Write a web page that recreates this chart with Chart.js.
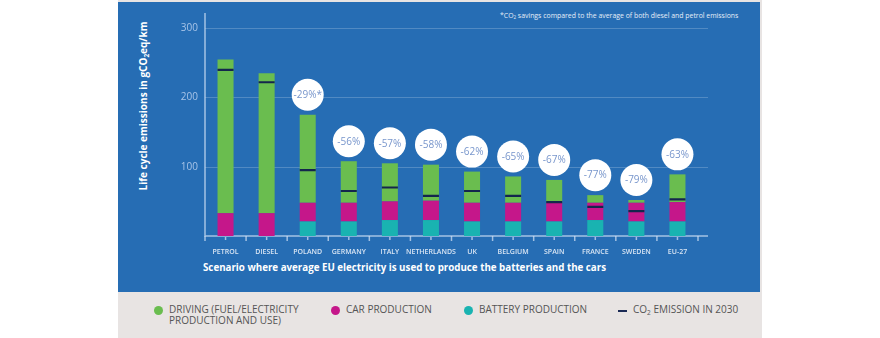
<!DOCTYPE html>
<html>
<head>
<meta charset="utf-8">
<script src="https://cdn.jsdelivr.net/npm/chart.js@4"></script>
<style>
  body { margin: 0; background: #fff; width: 880px; height: 338px; overflow: hidden; position: relative; font-family: "Open Sans", sans-serif; }
  #card { position: absolute; left: 118px; top: 0; width: 644px; height: 338px; background: #e8e4e3; }
  #panel { position: absolute; left: 118px; top: 2px; width: 642px; height: 290px; background: #266db4; }
  #chart { position: absolute; left: 0; top: 0; }
  .txt { position: absolute; white-space: nowrap; color: #fff; }
  #yTitle { left: 143px; top: 106px; font-size: 10px; font-weight: 700; transform: translate(-50%, -50%) rotate(-90deg); }
  #xTitle { left: 203px; top: 261px; font-size: 9.75px; font-weight: 700; }
  #note { left: 500px; top: 11px; font-size: 6.9px; color: #e6eef8; }
  sub { font-size: 65%; vertical-align: -0.3em; line-height: 0; }
  .leg { position: absolute; font-size: 10px; color: #555; line-height: 11px; white-space: nowrap; }
  .dot { position: absolute; width: 9px; height: 9px; border-radius: 50%; }
  .dash { position: absolute; width: 9px; height: 2px; background: #1b2a55; }
</style>
</head>
<body>
<div id="card"></div>
<div id="panel"></div>
<div class="txt" id="yTitle">Life cycle emissions in gCO<sub>2</sub>eq/km</div>
<div class="txt" id="xTitle">Scenario where average EU electricity is used to produce the batteries and the cars</div>
<div class="txt" id="note">*CO<sub>2</sub> savings compared to the average of both diesel and petrol emissions</div>

<div class="dot" style="left:154px; top:306px; background:#6abd4f"></div>
<div class="leg" style="left:169px; top:304px">DRIVING (FUEL/ELECTRICITY<br>PRODUCTION AND USE)</div>
<div class="dot" style="left:331px; top:306px; background:#c5178a"></div>
<div class="leg" style="left:346px; top:304px">CAR PRODUCTION</div>
<div class="dot" style="left:464px; top:306px; background:#19b3b1"></div>
<div class="leg" style="left:479px; top:304px">BATTERY PRODUCTION</div>
<div class="dash" style="left:618px; top:310px"></div>
<div class="leg" style="left:633px; top:304px">CO<sub>2</sub> EMISSION IN 2030</div>

<canvas id="chart" width="880" height="338"></canvas>

<script>
// gCO2eq/km per source, stacked bottom to top: battery, car, driving
const countries = ['PETROL', 'DIESEL', 'POLAND', 'GERMANY', 'ITALY', 'NETHERLANDS', 'UK', 'BELGIUM', 'SPAIN', 'FRANCE', 'SWEDEN', 'EU-27'];
const batteryProduction = [0, 0, 21, 21, 23, 23, 21, 21, 21, 23, 21, 21];
const carProduction = [33, 33, 27, 27, 27, 28, 27, 27, 27, 25, 27, 28];
const driving = [222, 202, 127, 60, 55, 52, 45, 38, 33, 11, 4, 40];
const emission2030 = [240, 222, 95, 65, 70, 58, 65, 58, 49, 42, 36, 53];
const savings = ['', '', '-29%*', '-56%', '-57%', '-58%', '-62%', '-65%', '-67%', '-77%', '-79%', '-63%'];
const yTicks = [100, 200, 300];

const FONT = '"Open Sans", sans-serif';
const AXIS_COL = 'rgba(205,222,243,0.75)';

// axis line, gridlines, the two sets of tick marks and the category names
const axisDecor = {
    id: 'axisDecor',
    beforeDatasetsDraw(chart) {
        const { ctx, chartArea: a, scales: { x, y } } = chart;
        const ext = a.right + 10;
        ctx.save();
        ctx.lineWidth = 1;
        ctx.strokeStyle = 'rgba(255,255,255,0.2)';
        yTicks.forEach(v => {
            const py = Math.round(y.getPixelForValue(v)) + 0.5;
            ctx.beginPath(); ctx.moveTo(a.left, py); ctx.lineTo(ext, py); ctx.stroke();
        });
        ctx.strokeStyle = AXIS_COL;
        ctx.lineWidth = 1.5;
        ctx.beginPath();
        ctx.moveTo(a.left, a.top); ctx.lineTo(a.left, a.bottom); ctx.lineTo(ext, a.bottom);
        ctx.stroke();
        const w = (a.right - a.left) / countries.length;
        for (let i = 0; i <= countries.length; i++) {
            const px = a.left + i * w;
            ctx.beginPath(); ctx.moveTo(px, a.bottom); ctx.lineTo(px, a.bottom + 5); ctx.stroke();
        }
        ctx.fillStyle = 'rgba(226,235,247,0.95)';
        ctx.font = '600 7px ' + FONT;
        ctx.textAlign = 'center';
        ctx.textBaseline = 'middle';
        countries.forEach((c, i) => {
            const px = x.getPixelForValue(i);
            ctx.beginPath(); ctx.moveTo(px, a.bottom + 1); ctx.lineTo(px, a.bottom + 4); ctx.stroke();
            ctx.fillText(c, px, a.bottom + 16);
        });
        ctx.restore();
    }
};

// white savings badges floating above each stack
const savingBadges = {
    id: 'savingBadges',
    afterDatasetsDraw(chart) {
        const { ctx, scales: { x, y } } = chart;
        ctx.save();
        savings.forEach((s, i) => {
            if (!s) return;
            const total = batteryProduction[i] + carProduction[i] + driving[i];
            const cx = x.getPixelForValue(i);
            const cy = y.getPixelForValue(total) - 20;
            ctx.fillStyle = '#ffffff';
            ctx.beginPath(); ctx.arc(cx, cy, 16, 0, Math.PI * 2); ctx.fill();
            ctx.fillStyle = '#7896cc';
            ctx.font = '10px ' + FONT;
            ctx.textAlign = 'center';
            ctx.textBaseline = 'middle';
            ctx.fillText(s, cx, cy + 0.5);
        });
        ctx.restore();
    }
};

new Chart(document.getElementById('chart').getContext('2d'), {
    data: {
        labels: countries,
        datasets: [
            { type: 'bar', label: 'Battery production', data: batteryProduction, backgroundColor: '#19b3b1', order: 1 },
            { type: 'bar', label: 'Car production', data: carProduction, backgroundColor: '#c5178a', order: 1 },
            { type: 'bar', label: 'Driving', data: driving, backgroundColor: '#6abd4f', order: 1 },
            { type: 'line', label: 'CO2 emission in 2030', data: emission2030, stack: 'co2', showLine: false,
              pointStyle: 'line', pointRadius: 8, pointHoverRadius: 8, pointBorderWidth: 2.2,
              pointBorderColor: '#14264d', pointBackgroundColor: '#14264d', order: 0 }
        ]
    },
    options: {
        responsive: false,
        animation: false,
        devicePixelRatio: 1,
        layout: { padding: { left: 150, top: 13, right: 182, bottom: 0 } },
        datasets: { bar: { barPercentage: 0.39, categoryPercentage: 1, borderWidth: 0 } },
        plugins: { legend: { display: false }, tooltip: { enabled: false } },
        scales: {
            x: {
                stacked: true,
                grid: { display: false },
                border: { display: false },
                ticks: { display: false },
                afterFit(s) { s.height = 102; }
            },
            y: {
                stacked: true,
                min: 0, max: 322,
                grid: { display: false, drawTicks: false },
                border: { display: false },
                ticks: { stepSize: 100, color: 'rgba(175,201,235,0.95)', font: { family: FONT, size: 10 }, padding: 7,
                         callback: v => (yTicks.includes(v) ? v : '') },
                afterFit(s) { s.width = 55; }
            }
        }
    },
    plugins: [axisDecor, savingBadges]
});
</script>
</body>
</html>
